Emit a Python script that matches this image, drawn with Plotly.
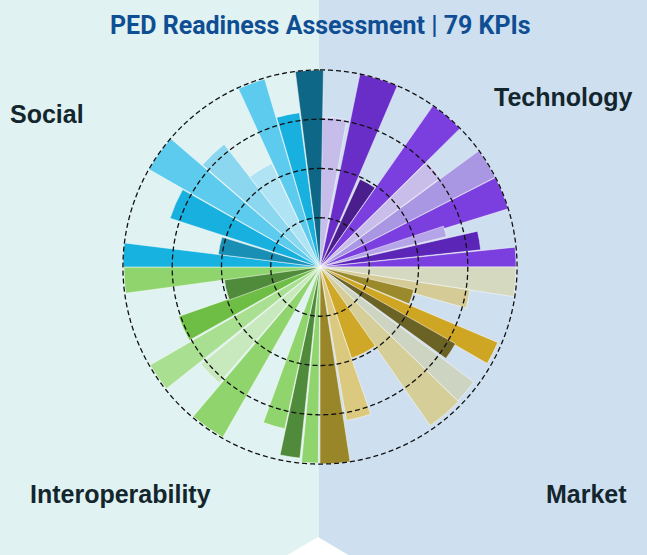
import plotly.graph_objects as go

# ---------------- data ----------------
categories = ["Technology", "Market", "Interoperability", "Social"]

# KPI scores (0-100) per category, in clockwise order
tech_values = [76, 100, 49, 100, 76, 100, 100, 66, 82, 99.5]
market_values = [99.5, 77, 49, 98, 79, 97.5, 98, 49, 79, 100]
interop_values = [99.5, 97.5, 84, 99.5, 78, 99.5, 76, 49, 99.5]
social_values = [100, 52, 80, 100, 79, 58, 99.5, 79, 100]

# angular extent (degrees, clockwise from north) of each KPI wedge
tech_start = [0.5, 11.7, 24.5, 35.0, 45.5, 53.8, 63.0, 71.7, 77.2, 84.2]
tech_end = [10.3, 23.1, 34.8, 45.3, 53.5, 62.9, 72.8, 76.5, 83.9, 90.0]
market_start = [90.0, 98.7, 103.6, 113.0, 119.5, 126.8, 134.2, 145.0, 161.0, 171.2]
market_end = [98.7, 105.7, 112.5, 120.0, 126.0, 134.2, 145.2, 161.0, 170.2, 180.0]
interop_start = [180.5, 186.0, 192.3, 209.7, 221.0, 231.6, 240.7, 250.0, 262.3]
interop_end = [185.4, 192.0, 200.0, 220.3, 230.8, 240.0, 250.7, 266.0, 270.0]
social_start = [270.0, 277.0, 288.0, 299.7, 311.0, 322.0, 335.4, 343.8, 352.8]
social_end = [277.0, 287.0, 299.4, 310.7, 322.0, 335.0, 343.6, 352.4, 361.0]

# radial grid levels
grid_levels = [25, 50, 75, 100]

# ---------------- styles ----------------
tech_colors = ["#c6bdea", "#6a2ec8", "#4a1e8c", "#7b3fe0", "#c9bdea",
               "#aa97e3", "#7b3fe0", "#b6a4e8", "#5b25b8", "#7b3fe0"]
market_colors = ["#d4d9bf", "#d4cb96", "#9b8a2c", "#cfa623", "#6b6225",
                 "#cdd5c2", "#d5ce98", "#cfa827", "#dac97f", "#998628"]
interop_colors = ["#8fd46d", "#4f8b3b", "#8fd46d", "#8fd46d", "#c8e8bd",
                  "#a9df91", "#6ebd45", "#4f8b3b", "#8fd46d"]
social_colors = ["#18b2e0", "#1a8fb6", "#18b0df", "#5ccbee", "#8bd7f0",
                 "#b0e3f3", "#5ccbee", "#18b0df", "#0f6787"]

W, H = 647, 555
RMAX = 102                      # radial range upper bound (leaves room for outer ring)
CX, CY = 320, 267
R = 197 * RMAX / 100            # pixel radius of the polar domain
ML, MT = CX - R, CY - R
MR, MB = W - (CX + R), H - (CY + R)


def pxx(x):
    return (x - ML) / (2 * R)


def pxy(y):
    return (CY + R - y) / (2 * R)


fig = go.Figure()

series = [
    (tech_values, tech_start, tech_end, tech_colors),
    (market_values, market_start, market_end, market_colors),
    (interop_values, interop_start, interop_end, interop_colors),
    (social_values, social_start, social_end, social_colors),
]
for name, (vals, st, en, cols) in zip(categories, series):
    fig.add_trace(go.Barpolar(
        name=name,
        r=vals,
        theta=[(a + b) / 2 for a, b in zip(st, en)],
        width=[b - a for a, b in zip(st, en)],
        marker=dict(color=cols, line=dict(color="white", width=0.5)),
        opacity=1,
        showlegend=False,
        hoverinfo="skip",
    ))

# dashed reference rings drawn above the bars
ring_theta = [i * 0.5 for i in range(721)]
for lvl in grid_levels:
    fig.add_trace(go.Scatterpolar(
        r=[lvl] * len(ring_theta), theta=ring_theta, mode="lines",
        line=dict(color="#111111", width=1.3, dash="5px,3px"),
        showlegend=False, hoverinfo="skip",
    ))

LEFT_BG = "#e0f2f2"
RIGHT_BG = "#cedff0"
SPLIT = 319

shapes = [
    dict(type="rect", xref="paper", yref="paper", layer="below",
         x0=pxx(-10), x1=pxx(SPLIT), y0=pxy(H + 10), y1=pxy(-10),
         fillcolor=LEFT_BG, line=dict(width=0)),
    dict(type="rect", xref="paper", yref="paper", layer="below",
         x0=pxx(SPLIT), x1=pxx(W + 10), y0=pxy(H + 10), y1=pxy(-10),
         fillcolor=RIGHT_BG, line=dict(width=0)),
    dict(type="path", xref="paper", yref="paper", layer="above",
         path="M {:.4f},{:.4f} L {:.4f},{:.4f} L {:.4f},{:.4f} Z".format(
             pxx(SPLIT - 1), pxy(537), pxx(SPLIT - 1 - 68), pxy(577),
             pxx(SPLIT - 1 + 68), pxy(577)),
         fillcolor="white", line=dict(width=0)),
]

label_font = dict(family="Liberation Sans, Arial, sans-serif", size=25, color="#14262d")
annotations = [
    dict(text="<b>PED Readiness Assessment | 79 KPIs</b>", xref="paper", yref="paper",
         x=pxx(320.5), y=pxy(26), xanchor="center", yanchor="middle", showarrow=False,
         font=dict(family="Roboto, sans-serif", size=25, color="#0f4e93")),
    dict(text="<b>Technology</b>", xref="paper", yref="paper", x=pxx(563), y=pxy(97),
         xanchor="center", yanchor="middle", showarrow=False, font=label_font),
    dict(text="<b>Social</b>", xref="paper", yref="paper", x=pxx(47), y=pxy(114),
         xanchor="center", yanchor="middle", showarrow=False, font=label_font),
    dict(text="<b>Interoperability</b>", xref="paper", yref="paper", x=pxx(120.5), y=pxy(494),
         xanchor="center", yanchor="middle", showarrow=False, font=label_font),
    dict(text="<b>Market</b>", xref="paper", yref="paper", x=pxx(586), y=pxy(494),
         xanchor="center", yanchor="middle", showarrow=False, font=label_font),
]

fig.update_layout(
    width=W, height=H,
    margin=dict(l=ML, r=MR, t=MT, b=MB, pad=0),
    paper_bgcolor=LEFT_BG,
    plot_bgcolor="rgba(0,0,0,0)",
    shapes=shapes,
    annotations=annotations,
    bargap=0,
    polar=dict(
        domain=dict(x=[0, 1], y=[0, 1]),
        bgcolor="rgba(0,0,0,0)",
        radialaxis=dict(range=[0, RMAX], showticklabels=False, ticks="",
                        showline=False, showgrid=False),
        angularaxis=dict(direction="clockwise", rotation=90, showgrid=False,
                         showticklabels=False, ticks="", showline=False),
    ),
)

fig.write_html("out.html")
